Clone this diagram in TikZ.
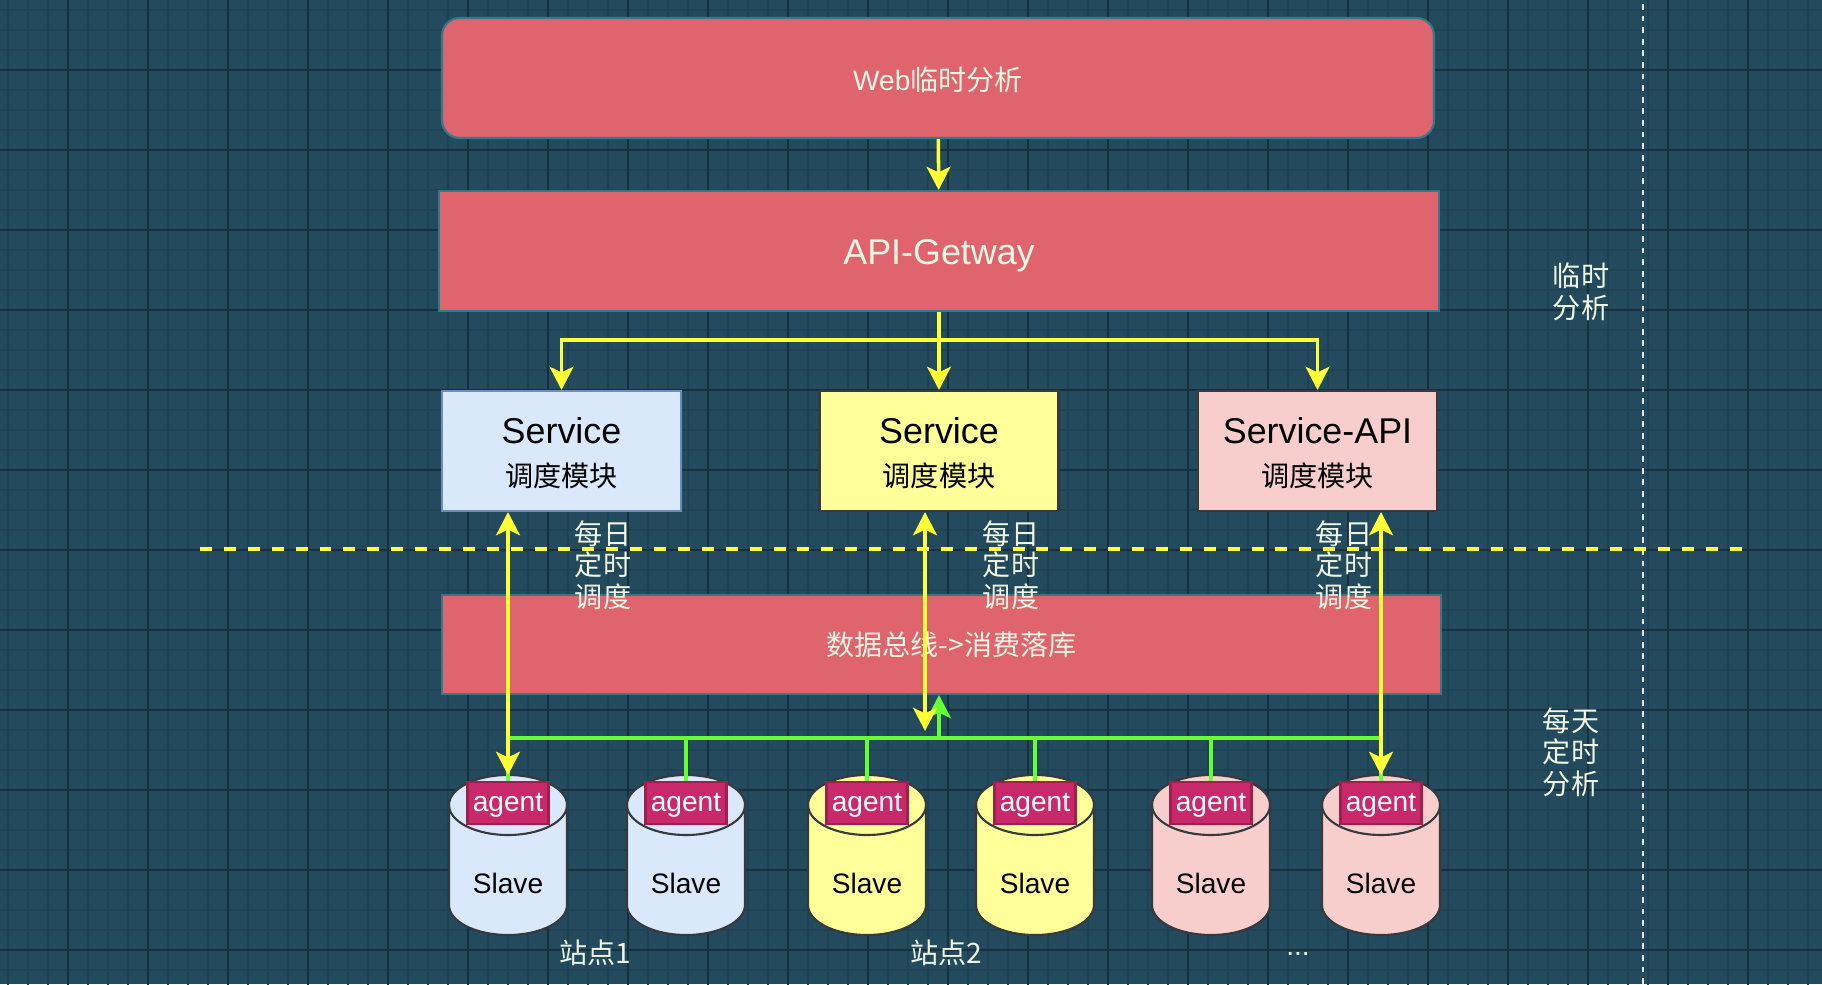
\documentclass[tikz,border=0pt]{standalone}
\usepackage{fontspec}
\setmainfont{Liberation Sans}
\newfontfamily\cjk{Noto Sans CJK SC}
\usepackage{xcolor}
\usepackage{tikz}
\usetikzlibrary{arrows, arrows.meta, calc, positioning}

\definecolor{bgteal}{HTML}{234A5D}
\definecolor{minorgrid}{HTML}{1F4254}
\definecolor{majorgrid}{HTML}{182F3D}
\definecolor{redfill}{HTML}{E0646E}
\definecolor{redline}{HTML}{2F7B8C}
\definecolor{ylw}{HTML}{FFFF33}
\definecolor{grn}{HTML}{66FF33}
\definecolor{blufill}{HTML}{DAE8FC}
\definecolor{bluline}{HTML}{6C8EBF}
\definecolor{yelfill}{HTML}{FFFF99}
\definecolor{pinkfill}{HTML}{F8CECC}
\definecolor{darkline}{HTML}{36393D}
\definecolor{agentfill}{HTML}{C7296B}
\definecolor{agentline}{HTML}{A11E4F}
\definecolor{notewhite}{HTML}{EEF6E4}

\newcommand\cjktext{\cjk\fontsize{8}{9}\selectfont}
\newcommand\bigtext{\fontsize{10.2}{12}\selectfont}
\newcommand\lowered[2]{\raisebox{-#1}[\height][\depth]{#2}}

\begin{document}
\begin{tikzpicture}[arrow/.style = {line width=1pt, draw=ylw, -{Stealth[length=6.6pt,width=6.8pt,inset=1.6pt]}},
	biarrow/.style = {line width=1pt, draw=ylw, {Stealth[length=6.6pt,width=6.8pt,inset=1.6pt]}-{Stealth[length=6.6pt,width=6.8pt,inset=1.6pt]}}]
		\tikzset{redbox/.style={draw=redline, fill=redfill, line width=0.6pt, inner sep=0pt, text=notewhite, align=center},
			svc/.style={line width=0.6pt, minimum width=2.39cm, minimum height=1.2cm, inner sep=0pt, align=center, font=\bigtext},
			agentbox/.style={draw=agentline, fill=agentfill, line width=0.6pt, minimum width=0.81cm, minimum height=0.42cm, inner sep=0pt, text=white, font=\fontsize{8}{9}\selectfont},
			note/.style={text=notewhite, font=\cjktext, align=left, inner sep=0pt},
			greenline/.style={draw=grn, line width=1pt},
			greenarrow/.style={draw=grn, line width=1pt, -{Stealth[length=6.6pt,width=6.8pt,inset=1.6pt]}}}

		\fill[bgteal] (0,0) rectangle (18.22,9.84);
		\useasboundingbox (0,0) rectangle (18.22,9.84);
		\begin{scope}
			\clip (0,0) rectangle (18.22,9.84);
			\draw[minorgrid, line width=0.5pt, xshift=0.08cm, yshift=0.14cm] (-0.4,-0.4) grid[step=0.2] (18.4,10);
			\draw[majorgrid, line width=0.5pt, xshift=0.68cm, yshift=0.34cm] (-0.8,-0.8) grid[step=0.8] (18.4,10);
		\end{scope}

		\draw[draw=white!80!gray, line width=0.57pt, dash pattern=on 1.65pt off 1.65pt] (16.43,0) -- (16.43,9.84);
		\draw[draw=ylw, line width=0.95pt, dash pattern=on 3.4pt off 3.4pt] (2.00,4.35) -- (17.48,4.35);

		\node[redbox, rounded corners=5pt, minimum width=9.92cm, minimum height=1.2cm] (web) at (9.38,9.06) {\fontsize{8}{9}\selectfont\lowered{0.6pt}{Web{\cjk 临时分析}}};
		\node[redbox, minimum width=10.0cm, minimum height=1.2cm, font=\bigtext] (api) at (9.39,7.33) {\lowered{1.2pt}{API-Getway}};

		\node[svc, draw=bluline, fill=blufill] (svc1) at (5.615,5.33) {\lowered{0.6pt}{Service}\\{\cjktext\lowered{0.6pt}{调度模块}}};
		\node[svc, draw=darkline, fill=yelfill] (svc2) at (9.39,5.33) {\lowered{0.6pt}{Service}\\{\cjktext\lowered{0.6pt}{调度模块}}};
		\node[svc, draw=darkline, fill=pinkfill] (svc3) at (13.175,5.33) {\lowered{0.6pt}{Service-API}\\{\cjktext\lowered{0.6pt}{调度模块}}};

		\node[redbox, minimum width=9.99cm, minimum height=0.99cm, font=\cjktext] (bus) at (9.415,3.395) {\hspace*{2mm}数据总线->消费落库};

		\foreach \cx/\fc/\n in {5.08/blufill/1, 6.86/blufill/2, 8.67/yelfill/3, 10.35/yelfill/4, 12.11/pinkfill/5, 13.81/pinkfill/6} {
			\filldraw[fill=\fc, draw=darkline, line width=0.6pt] (\cx-0.59,1.79) -- (\cx-0.59,0.79) arc[start angle=180, end angle=360, x radius=0.59, y radius=0.30] -- (\cx+0.59,1.79) arc[start angle=0, end angle=180, x radius=0.59, y radius=0.30] -- cycle;
			\draw[darkline, line width=0.6pt] (\cx-0.59,1.79) arc[start angle=180, end angle=360, x radius=0.59, y radius=0.30];
			\coordinate (top\n) at (\cx,2.09);
			\node[font=\fontsize{8}{9}\selectfont] (slave\n) at (\cx,1.01) {Slave};
			\node[agentbox] (agent\n) at (\cx,1.81) {\lowered{0.8pt}{agent}};
		}

		\coordinate (gbus) at (0,2.46);
		\coordinate (gup) at (9.39,2.46);
		\coordinate (split) at (9.39,6.44);
		\coordinate (mid) at (9.25,2.53);

		\draw[greenline] (agent1.north |- gbus) -- (agent6.north |- gbus);
		\foreach \n in {1,...,6}
			\draw[greenline] (agent\n.north |- gbus) -- (agent\n.north);
		\draw[greenarrow] (gup) -- (bus.south -| gup);

		\draw [arrow] (web) -- (api);
		\draw [line width=1pt, draw=ylw] (api.south) -- (split);
		\draw [arrow] (split) -| (svc1.north);
		\draw [arrow] (split) -- (svc2.north);
		\draw [arrow] (split) -| (svc3.north);

		\node[note] (daily1) at (6.03,4.19) {每日\\定时\\调度};
		\node[note] (daily2) at (10.11,4.19) {每日\\定时\\调度};
		\node[note] (daily3) at (13.44,4.19) {每日\\定时\\调度};

		\draw [biarrow] (svc1.south -| top1) -- (top1);
		\draw [biarrow] (svc2.south -| mid) -- (mid);
		\draw [biarrow] (svc3.south -| top6) -- (top6);

		\node[note] (adhoc) at (15.81,6.92) {临时\\分析};
		\node[note] (everyday) at (15.71,2.32) {每天\\定时\\分析};

		\node[note] (site1) at (5.95,0.31) {站点1};
		\node[note] (site2) at (9.46,0.31) {站点2};
		\node[note, font=\fontsize{8}{9}\selectfont] (more) at (12.98,0.30) {...};

	\end{tikzpicture}
\end{document}
